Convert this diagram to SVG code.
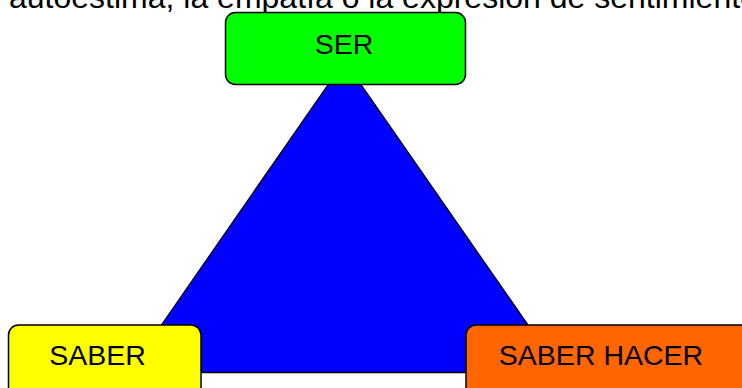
<svg xmlns="http://www.w3.org/2000/svg" width="742" height="388" viewBox="0 0 742 388">
  <style>
    .box { stroke: #000; stroke-width: 1.5; }
    .lbl { font-family: "Liberation Sans", Arial, sans-serif; font-size: 28.5px; fill: #000; text-anchor: middle; }
    .caption { font-family: "Liberation Sans", Arial, sans-serif; font-size: 32px; fill: #000; }
  </style>
  <rect width="742" height="388" fill="#fff"/>

  <!-- Caption line running above the diagram -->
  <text class="caption" x="9" y="8">autoestima, la empatía o la expresión de sentimientos</text>

  <!-- Connecting triangle between the three nodes -->
  <g id="connectors">
    <polygon points="344.5,61 128.5,372.5 561,372.5" fill="#0000ff" stroke="#000" stroke-width="1.3"/>
  </g>

  <g id="node-ser">
    <rect class="box" x="225.5" y="12.5" width="240" height="72" rx="10" fill="#00ff00"/>
    <text class="lbl" x="344" y="53.5">SER</text>
  </g>

  <g id="node-saber">
    <rect class="box" x="8.5" y="325" width="192.5" height="90" rx="10" fill="#ffff00"/>
    <text class="lbl" x="97.5" y="365">SABER</text>
  </g>

  <g id="node-saber-hacer">
    <rect class="box" x="466" y="325" width="300" height="90" rx="10" fill="#ff6600"/>
    <text class="lbl" x="601" y="365">SABER HACER</text>
  </g>
</svg>
